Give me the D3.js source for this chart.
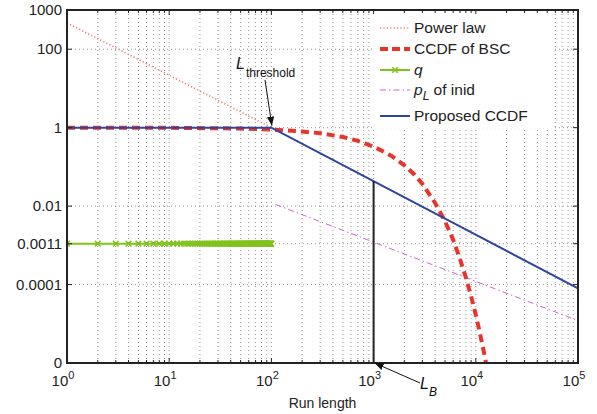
<!DOCTYPE html>
<html>
<head>
<meta charset="utf-8">
<script src="https://cdn.jsdelivr.net/npm/d3@7/dist/d3.min.js"></script>
<style>
  html, body { margin: 0; padding: 0; background: #fff; }
  svg { display: block; font-family: "Liberation Sans", Arial, Helvetica, sans-serif; }
</style>
</head>
<body>
<svg id="chart" width="597" height="414"></svg>
<script>
// ---- data ----
const xTickValues = [1, 10, 100, 1000, 10000, 100000];
const xTickExponents = ["0", "1", "2", "3", "4", "5"];
const yTickValues = [1000, 100, 1, 0.01, 0.0011, 0.0001, 0.000001];
const yTickLabels = ["1000", "100", "1", "0.01", "0.0011", "0.0001", "0"];

// power law reference (run length, value)
const powerLawL = [1, 100, 100000];
const powerLawV = [470, 1, 0.00008];

// CCDF of the binary symmetric channel
const bscL = [1, 10, 50, 100, 200, 300, 500, 700, 1000, 1500, 2000, 2500, 3000,
              4000, 5000, 6000, 7000, 8000, 9000, 10000, 11000, 12000, 12600, 13000];
const bscV = [1.0, 0.99, 0.95, 0.90, 0.80, 0.72, 0.58, 0.46, 0.33, 0.19, 0.11, 0.064, 0.037,
              0.012, 0.0041, 0.0014, 0.00045, 0.00015, 0.00005, 0.000017, 0.0000056, 0.0000019, 0.000001, 0.0000006];

// q for every run length up to the threshold
const qL = d3.range(1, 101);
const qValue = 0.0011;

// p_L of inid
const pLL = [110, 100000];
const pLV = [0.011, 0.000012];

// proposed CCDF
const propL = [1, 100, 100000];
const propV = [1, 1, 0.00008];

// annotation points
const lThreshold = 100;
const lB = 1000;
const lBValue = 0.043;

// ---- layout ----
const svg = d3.select("#chart");
const mLeft = 67, mRight = 578, mTop = 10, mBottom = 363;

const x = d3.scaleLog().domain([1, 100000]).range([mLeft, mRight]);
const y = d3.scaleLog().domain([0.000001, 1000]).range([mBottom, mTop]);

const defs = svg.append("defs");
defs.append("clipPath").attr("id", "plotclip")
  .append("rect").attr("x", mLeft).attr("y", mTop)
  .attr("width", mRight - mLeft).attr("height", mBottom - mTop);
defs.append("marker").attr("id", "arrowhead")
  .attr("viewBox", "0 0 10 10").attr("refX", 10).attr("refY", 5)
  .attr("markerWidth", 9).attr("markerHeight", 9)
  .attr("markerUnits", "userSpaceOnUse")
  .attr("orient", "auto")
  .append("path").attr("d", "M0,1L10,5L0,9Z").attr("fill", "#111");

// ---- grid ----
const grid = svg.append("g").attr("stroke", "#777").attr("stroke-width", 0.8)
  .attr("stroke-dasharray", "1,3");
const minorX = [];
for (let e = 0; e < 5; e++) for (let m = 1; m <= 9; m++) minorX.push(m * Math.pow(10, e));
minorX.push(100000);
grid.selectAll("line.vx").data(minorX.filter(v => v > 1 && v < 100000)).join("line")
  .attr("class", "vx")
  .attr("x1", d => x(d)).attr("x2", d => x(d)).attr("y1", mTop).attr("y2", mBottom);
grid.selectAll("line.hy").data(yTickValues.filter(v => v < 1000 && v > 0.000001)).join("line")
  .attr("class", "hy")
  .attr("x1", mLeft).attr("x2", mRight).attr("y1", d => y(d)).attr("y2", d => y(d));

// ---- series ----
const plot = svg.append("g").attr("clip-path", "url(#plotclip)");
const line = d3.line().x(d => x(d[0])).y(d => y(d[1]));
const zip = (a, b) => a.map((v, i) => [v, b[i]]);

plot.append("path").datum(zip(powerLawL, powerLawV)).attr("d", line)
  .attr("fill", "none").attr("stroke", "#ee7a6e").attr("stroke-width", 1.6)
  .attr("stroke-dasharray", "1.2,2.2");

plot.append("path").datum(zip(pLL, pLV)).attr("d", line)
  .attr("fill", "none").attr("stroke", "#cc66cc").attr("stroke-width", 1)
  .attr("stroke-dasharray", "6,3,1.5,3");

plot.append("path").datum(zip(bscL, bscV)).attr("d", line)
  .attr("fill", "none").attr("stroke", "#e8352c").attr("stroke-width", 4)
  .attr("stroke-dasharray", "8,5");

plot.append("path").datum(qL.map(l => [l, qValue])).attr("d", line)
  .attr("fill", "none").attr("stroke", "#80c31e").attr("stroke-width", 2);
plot.selectAll("path.qm").data(qL).join("path").attr("class", "qm")
  .attr("transform", d => `translate(${x(d)},${y(qValue)})`)
  .attr("d", "M-2.8,-2.8L2.8,2.8M2.8,-2.8L-2.8,2.8")
  .attr("stroke", "#80c31e").attr("stroke-width", 1.6).attr("fill", "none");

plot.append("path").datum(zip(propL, propV)).attr("d", line)
  .attr("fill", "none").attr("stroke", "#2c46a0").attr("stroke-width", 2);

// vertical marker at L_B
plot.append("line")
  .attr("x1", x(lB)).attr("x2", x(lB)).attr("y1", y(0.000001)).attr("y2", y(lBValue))
  .attr("stroke", "#222").attr("stroke-width", 2);

// ---- axes box and ticks ----
const axes = svg.append("g").attr("stroke", "#222");
axes.append("rect").attr("x", mLeft).attr("y", mTop)
  .attr("width", mRight - mLeft).attr("height", mBottom - mTop)
  .attr("fill", "none").attr("stroke-width", 2);

const xMinor = minorX.filter(v => !xTickValues.includes(v));
axes.selectAll("line.xt").data(xTickValues).join("line").attr("class", "xt")
  .attr("x1", d => x(d)).attr("x2", d => x(d)).attr("y1", mBottom).attr("y2", mBottom - 5)
  .attr("stroke-width", 1);
axes.selectAll("line.xtt").data(xTickValues).join("line").attr("class", "xtt")
  .attr("x1", d => x(d)).attr("x2", d => x(d)).attr("y1", mTop).attr("y2", mTop + 5)
  .attr("stroke-width", 1);
axes.selectAll("line.xm").data(xMinor).join("line").attr("class", "xm")
  .attr("x1", d => x(d)).attr("x2", d => x(d)).attr("y1", mBottom).attr("y2", mBottom - 3)
  .attr("stroke-width", 1);
axes.selectAll("line.xmt").data(xMinor).join("line").attr("class", "xmt")
  .attr("x1", d => x(d)).attr("x2", d => x(d)).attr("y1", mTop).attr("y2", mTop + 3)
  .attr("stroke-width", 1);
axes.selectAll("line.yt").data(yTickValues).join("line").attr("class", "yt")
  .attr("x1", mLeft).attr("x2", mLeft + 5).attr("y1", d => y(d)).attr("y2", d => y(d))
  .attr("stroke-width", 1);
axes.selectAll("line.ytr").data(yTickValues).join("line").attr("class", "ytr")
  .attr("x1", mRight).attr("x2", mRight - 5).attr("y1", d => y(d)).attr("y2", d => y(d))
  .attr("stroke-width", 1);

// tick labels
const ylab = svg.append("g").attr("font-size", 15).attr("fill", "#222").attr("text-anchor", "end");
ylab.selectAll("text").data(yTickValues).join("text")
  .attr("x", mLeft - 5).attr("y", d => y(d)).attr("dy", "0.35em")
  .text((d, i) => yTickLabels[i]);

const xlab = svg.append("g").attr("font-size", 15).attr("fill", "#222");
xTickValues.forEach((v, i) => {
  const t = xlab.append("text").attr("x", x(v) - 4).attr("y", 386).attr("text-anchor", "middle");
  t.append("tspan").text("10");
  t.append("tspan").attr("font-size", 11).attr("dy", -7).text(xTickExponents[i]);
});

svg.append("text").attr("x", (mLeft + mRight) / 2).attr("y", 408)
  .attr("text-anchor", "middle").attr("font-size", 14).attr("fill", "#222")
  .text("Run length");

// ---- legend ----
const lg = svg.append("g");
lg.append("rect").attr("x", 373).attr("y", 14).attr("width", 181).attr("height", 114)
  .attr("fill", "#fff");
const legendItems = [
  { label: "Power law", y: 28, stroke: "#ee7a6e", width: 1.6, dash: "1.2,2.2" },
  { label: "CCDF of BSC", y: 49, stroke: "#e8352c", width: 4, dash: "8,4" },
  { label: "q", y: 70, stroke: "#80c31e", width: 2, dash: null, marker: true, italic: true },
  { label: "p", sub: "L", rest: " of inid", y: 90, stroke: "#cc66cc", width: 1, dash: "6,3,1.5,3" },
  { label: "Proposed CCDF", y: 116, stroke: "#2c46a0", width: 2, dash: null }
];
legendItems.forEach(it => {
  lg.append("line").attr("x1", 380).attr("x2", 410).attr("y1", it.y).attr("y2", it.y)
    .attr("stroke", it.stroke).attr("stroke-width", it.width)
    .attr("stroke-dasharray", it.dash);
  if (it.marker) {
    lg.append("path").attr("transform", `translate(395,${it.y})`)
      .attr("d", "M-2.8,-2.8L2.8,2.8M2.8,-2.8L-2.8,2.8")
      .attr("stroke", it.stroke).attr("stroke-width", 1.6);
  }
  const t = lg.append("text").attr("x", 414).attr("y", it.y).attr("dy", "0.35em")
    .attr("font-size", 15.5).attr("fill", "#222");
  if (it.sub) {
    t.append("tspan").attr("font-style", "italic").text(it.label);
    t.append("tspan").attr("font-style", "italic").attr("font-size", 12).attr("dy", 5).text(it.sub);
    t.append("tspan").attr("dy", -5).text(it.rest);
  } else {
    t.append("tspan").attr("font-style", it.italic ? "italic" : "normal").text(it.label);
  }
});

// ---- annotations ----
const ann = svg.append("g").attr("fill", "#111");
const tThr = ann.append("text").attr("x", 236).attr("y", 69);
tThr.append("tspan").attr("font-style", "italic").attr("font-size", 16).text("L");
tThr.append("tspan").attr("font-size", 12).attr("dy", 8).attr("dx", 1).text("threshold");
ann.append("line").attr("x1", 265).attr("y1", 80).attr("x2", x(lThreshold) + 0.5).attr("y2", y(1) - 2)
  .attr("stroke", "#111").attr("stroke-width", 1).attr("marker-end", "url(#arrowhead)");

const tB = ann.append("text").attr("x", 420).attr("y", 389);
tB.append("tspan").attr("font-style", "italic").attr("font-size", 16).text("L");
tB.append("tspan").attr("font-style", "italic").attr("font-size", 12).attr("dy", 7).text("B");
ann.append("line").attr("x1", 420).attr("y1", 383).attr("x2", x(lB) + 1).attr("y2", mBottom)
  .attr("stroke", "#111").attr("stroke-width", 1).attr("marker-end", "url(#arrowhead)");
</script>
</body>
</html>
